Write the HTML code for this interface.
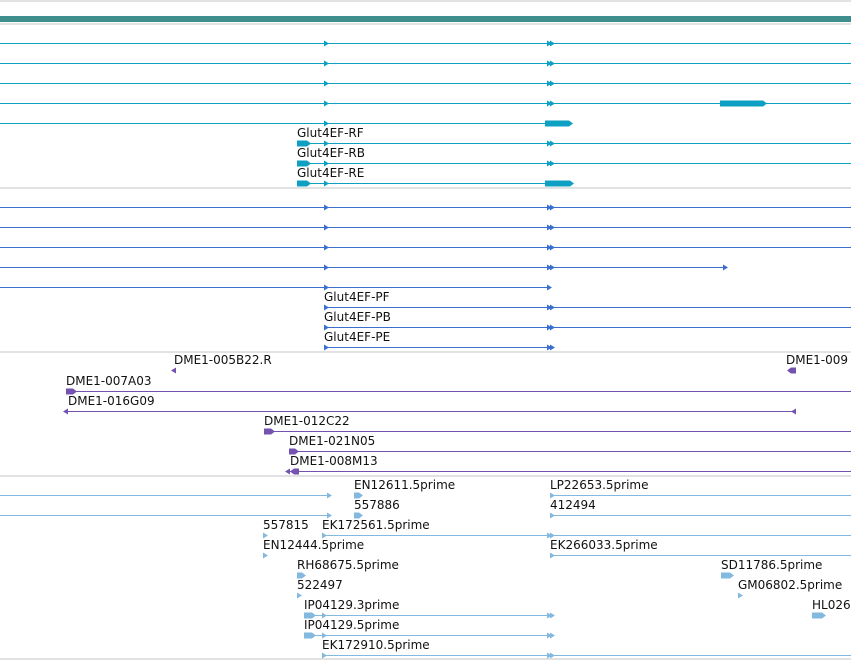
<!DOCTYPE html>
<html><head><meta charset="utf-8"><style>
html,body{margin:0;padding:0;background:#fff;}
svg{display:block;font-family:"DejaVu Sans","Liberation Sans",sans-serif;}
text{font-size:12px;fill:#111;}
</style></head><body>
<svg id="tracks" width="851" height="660" viewBox="0 0 851 660" xmlns="http://www.w3.org/2000/svg">
<rect width="851" height="660" fill="#fff"/>
<line x1="0" y1="1" x2="851" y2="1" stroke="#c4c4c4"/>
<rect x="0" y="16" width="851" height="6" fill="#3e8e8e"/>
<line x1="0" y1="24" x2="851" y2="24" stroke="#c4c4c4"/>
<line x1="0" y1="188" x2="851" y2="188" stroke="#c4c4c4"/>
<line x1="0" y1="352" x2="851" y2="352" stroke="#c4c4c4"/>
<line x1="0" y1="476" x2="851" y2="476" stroke="#c4c4c4"/>
<line x1="0" y1="659" x2="851" y2="659" stroke="#c4c4c4"/>
<g id="feat"></g>
</svg>
<script>
// [trackColor, rowY, lineStart, lineEnd, arrows(x,dir), blocks(x1,x2,dir), label, labelX]
const teal="#0ea0c2", blue="#3a6fd0", purple="#7352b0", lblue="#84b9df";
const features=[
 [teal,43,0,851,[[324,1],[547,2]],[],"",0],
 [teal,63,0,851,[[324,1],[547,2]],[],"",0],
 [teal,83,0,851,[[324,1],[547,2]],[],"",0],
 [teal,103,0,851,[[324,1],[547,2]],[[720,767,1]],"",0],
 [teal,123,0,545,[[324,1]],[[545,573,1]],"",0],
 [teal,143,297,851,[[324,1],[547,2]],[[297,311,1]],"Glut4EF-RF",297],
 [teal,163,297,851,[[324,1],[547,2]],[[297,311,1]],"Glut4EF-RB",297],
 [teal,183,297,545,[[324,1]],[[297,311,1],[545,574,1]],"Glut4EF-RE",297],
 [blue,207,0,851,[[324,1],[547,2]],[],"",0],
 [blue,227,0,851,[[324,1],[547,2]],[],"",0],
 [blue,247,0,851,[[324,1],[547,2]],[],"",0],
 [blue,267,0,723,[[324,1],[547,2],[723,1]],[],"",0],
 [blue,287,0,547,[[324,1],[547,1]],[],"",0],
 [blue,307,324,851,[[324,1],[547,2]],[],"Glut4EF-PF",324],
 [blue,327,324,851,[[324,1],[547,2]],[],"Glut4EF-PB",324],
 [blue,347,324,553,[[324,1],[547,2]],[],"Glut4EF-PE",324],
 [purple,370,176,176,[[176,-1]],[],"DME1-005B22.R",174],
 [purple,370,787,787,[],[[787,796,-1]],"DME1-009",786],
 [purple,391,66,851,[],[[66,77,1]],"DME1-007A03",66],
 [purple,411,68,796,[[68,-1],[796,-1]],[],"DME1-016G09",68],
 [purple,431,264,851,[],[[264,275,1]],"DME1-012C22",264],
 [purple,451,289,851,[],[[289,299,1]],"DME1-021N05",289],
 [purple,471,290,851,[[290,-1]],[[290,299,-1]],"DME1-008M13",290],
 [lblue,495,0,327,[[327,1]],[],"",0],
 [lblue,495,354,354,[],[[354,363,1]],"EN12611.5prime",354],
 [lblue,495,550,851,[[550,1]],[],"LP22653.5prime",550],
 [lblue,515,0,327,[[327,1]],[],"",0],
 [lblue,515,354,354,[],[[354,363,1]],"557886",354],
 [lblue,515,550,851,[[550,1]],[],"412494",550],
 [lblue,535,263,263,[[263,1]],[],"557815",263],
 [lblue,535,322,851,[[322,1],[547,2]],[],"EK172561.5prime",322],
 [lblue,555,263,263,[[263,1]],[],"EN12444.5prime",263],
 [lblue,555,550,851,[[550,1]],[],"EK266033.5prime",550],
 [lblue,575,297,297,[],[[297,306,1]],"RH68675.5prime",297],
 [lblue,575,721,721,[],[[721,734,1]],"SD11786.5prime",721],
 [lblue,595,297,297,[[297,1]],[],"522497",297],
 [lblue,595,738,738,[[738,1]],[],"GM06802.5prime",738],
 [lblue,615,304,553,[[322,1],[547,2]],[[304,316,1]],"IP04129.3prime",304],
 [lblue,615,812,812,[],[[812,826,1]],"HL026",812],
 [lblue,635,304,553,[[322,1],[547,2]],[[304,316,1]],"IP04129.5prime",304],
 [lblue,655,322,851,[[322,1],[547,2]],[],"EK172910.5prime",322]
];
const NS="http://www.w3.org/2000/svg", g=document.getElementById('feat');
function mk(t,a){const e=document.createElementNS(NS,t);for(const k in a)e.setAttribute(k,a[k]);g.appendChild(e);return e;}
features.forEach(f=>{
 const [c,y,x1,x2,arrows,blocks,label,lx]=f;
 if(x2>x1){const l=mk('line',{x1:x1,y1:y+0.5,x2:x2,y2:y+0.5,stroke:c,'stroke-width':1});
  
  }
 arrows.forEach(([ax,d])=>{
  const reps=Math.abs(d), s=d<0?-1:1;
  for(let i=0;i<reps;i++){const x=ax+i*3;
   const p=mk('polygon',{points:`${x},${y-2.5} ${x+5*s},${y+0.5} ${x},${y+3.5}`,fill:c});
   
   }
 });
 blocks.forEach(([bx1,bx2,d])=>{
  let pts = d>0 ? `${bx1},${y-2.5} ${bx2-4},${y-2.5} ${bx2},${y+0.5} ${bx2-4},${y+3.5} ${bx1},${y+3.5}`
                : `${bx1+4},${y-2.5} ${bx2},${y-2.5} ${bx2},${y+3.5} ${bx1+4},${y+3.5} ${bx1},${y+0.5}`;
  const p=mk('polygon',{points:pts,fill:c});
  
  
 });
 if(label){const t=mk('text',{x:lx,y:y-6});t.textContent=label;
  
  }
});
</script>
</body></html>
